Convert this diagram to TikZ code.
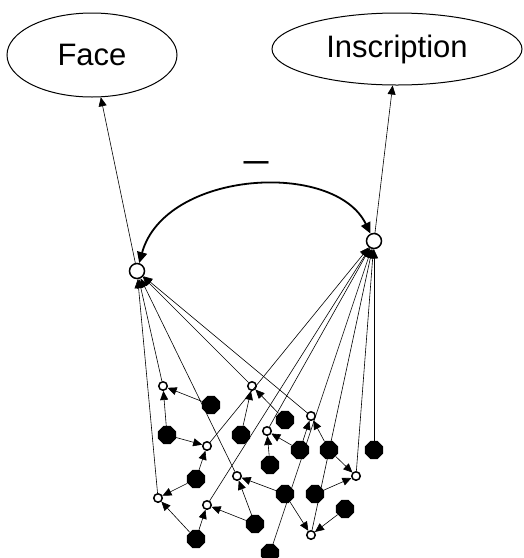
\documentclass[tikz,border=0pt]{standalone}
\usepackage{fontspec}
\setmainfont{Liberation Sans}
\usetikzlibrary{arrows.meta,shapes.geometric}
\tikzset{
  link/.style={-{Triangle[length=9pt,width=8pt]},line width=0.6pt},
  corr/.style={{Triangle[length=11pt,width=10pt]}-{Triangle[length=11pt,width=10pt]},line width=1.8pt},
  construct/.style={ellipse,draw,line width=1pt,inner sep=0pt,
    font=\fontsize{31}{37}\selectfont},
  latent/.style={circle,draw,line width=1.5pt,fill=white,minimum size=15pt,inner sep=0pt},
  errnode/.style={circle,draw,line width=1.5pt,fill=white,minimum size=8.5pt,inner sep=0pt},
  obsnode/.style={regular polygon,regular polygon sides=8,fill=black,
    minimum size=19.5pt,inner sep=0pt}
}

\begin{document}
\begin{tikzpicture}[x=1pt,y=-1pt]
  \useasboundingbox (0,0) rectangle (524,558);
  % constructs and their latent factors
  \node[construct,minimum width=170pt,minimum height=84pt] (face) at (92,55) {Face};
  \node[construct,minimum width=250pt,minimum height=72pt] (inscr) at (397,49) {Inscription};
  \node[latent] (lface) at (137,271) {};
  \node[latent] (linscr) at (374,241) {};
  \node[font=\fontsize{25}{30}\selectfont\bfseries] (neg) at (256,166) {—};

  % error terms
  \node[errnode] (e1) at (163,386) {};
  \node[errnode] (e2) at (252,386) {};
  \node[errnode] (e3) at (311,416) {};
  \node[errnode] (e4) at (267,431) {};
  \node[errnode] (e5) at (207,446) {};
  \node[errnode] (e6) at (237,476) {};
  \node[errnode] (e7) at (356,476) {};
  \node[errnode] (e8) at (158,498) {};
  \node[errnode] (e9) at (207,505) {};
  \node[errnode] (e10) at (311,535) {};

  % measured items
  \node[obsnode] (m1) at (211,405) {};
  \node[obsnode] (m2) at (285,420) {};
  \node[obsnode] (m3) at (167,435) {};
  \node[obsnode] (m4) at (241,435) {};
  \node[obsnode] (m5) at (300,450) {};
  \node[obsnode] (m6) at (329,450) {};
  \node[obsnode] (m7) at (374,450) {};
  \node[obsnode] (m8) at (270,465) {};
  \node[obsnode] (m9) at (196,479) {};
  \node[obsnode] (m10) at (285,494) {};
  \node[obsnode] (m11) at (315,494) {};
  \node[obsnode] (m12) at (345,509) {};
  \node[obsnode] (m13) at (255,524) {};
  \node[obsnode] (m14) at (196,539) {};
  \node[obsnode] (m15) at (270,553) {};

  \draw[link] (lface) -- (face);
  \draw[link] (linscr) -- (inscr);
  \draw[corr] (lface) .. controls (165,170) and (335,160) .. (linscr);

  % into the Face factor
  \draw[link] (e1) -- (lface);
  \draw[link] (e2) -- (lface);
  \draw[link] (e3) -- (lface);
  \draw[link] (e6) -- (lface);
  \draw[link] (e8) -- (lface);

  % into the Inscription factor
  \draw[link] (e4) -- (linscr);
  \draw[link] (e5) -- (linscr);
  \draw[link] (e7) -- (linscr);
  \draw[link] (e9) -- (linscr);
  \draw[link] (e10) -- (linscr);
  \draw[link] (m7) -- (linscr);
  \draw[link] (m15) -- (linscr);

  % items into error terms
  \draw[link] (m1) -- (e1);  \draw[link] (m3) -- (e1);
  \draw[link] (m4) -- (e2);  \draw[link] (m2) -- (e2);
  \draw[link] (m5) -- (e3);  \draw[link] (m6) -- (e3);
  \draw[link] (m8) -- (e4);  \draw[link] (m5) -- (e4);
  \draw[link] (m3) -- (e5);  \draw[link] (m9) -- (e5);
  \draw[link] (m13) -- (e6); \draw[link] (m10) -- (e6);
  \draw[link] (m6) -- (e7);  \draw[link] (m11) -- (e7);
  \draw[link] (m9) -- (e8);  \draw[link] (m14) -- (e8);
  \draw[link] (m14) -- (e9); \draw[link] (m13) -- (e9);
  \draw[link] (m10) -- (e10); \draw[link] (m12) -- (e10);
\end{tikzpicture}
\end{document}
